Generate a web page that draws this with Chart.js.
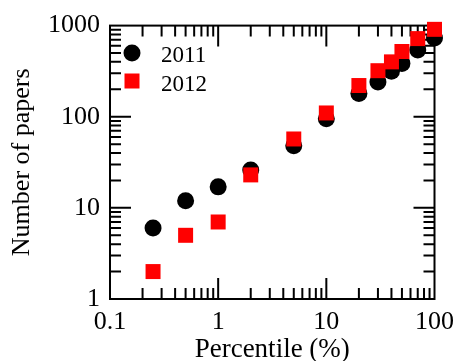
<!DOCTYPE html>
<html>
<head>
<meta charset="utf-8">
<script src="https://cdn.jsdelivr.net/npm/chart.js@4.4.1/dist/chart.umd.min.js"></script>
<style>
  html, body { margin: 0; padding: 0; background: #fff; }
  #wrap { width: 462px; height: 361px; }
</style>
</head>
<body>
<div id="wrap"><canvas id="chart"></canvas></div>
<script>
const percentiles = [0.25, 0.5, 1, 2, 5, 10, 20, 30, 40, 50, 70, 100];
const papers2011 = [6, 12, 17, 26, 48, 95, 180, 240, 315, 385, 540, 730];
const papers2012 = [2, 5, 7, 23, 57, 110, 220, 320, 400, 520, 720, 910];
const seriesNames = ['2011', '2012'];
const xTicks = [0.1, 1, 10, 100];
const yTicks = [1, 10, 100, 1000];

const FONT = '"Liberation Serif", serif';

function toPoints(xs, ys) {
  return xs.map((x, i) => ({ x: x, y: ys[i] }));
}

// inward ticks on all four sides, like the original plot
const frameTicks = {
  id: 'frameTicks',
  beforeDatasetsDraw(chart) {
    const { ctx, chartArea: a, scales } = chart;
    const major = 21, minor = 11;
    ctx.save();
    ctx.strokeStyle = '#000';
    ctx.lineWidth = 2;
    ctx.strokeRect(a.left, a.top, a.right - a.left, a.bottom - a.top);
    ctx.beginPath();
    for (let d = -1; d < 2; d++) {
      for (let k = 1; k < 10; k++) {
        const px = scales.x.getPixelForValue(k * Math.pow(10, d));
        const len = k === 1 ? major : minor;
        ctx.moveTo(px, a.bottom); ctx.lineTo(px, a.bottom - len);
        ctx.moveTo(px, a.top); ctx.lineTo(px, a.top + len);
      }
    }
    for (let d = 0; d < 3; d++) {
      for (let k = 1; k < 10; k++) {
        const py = scales.y.getPixelForValue(k * Math.pow(10, d));
        const len = k === 1 ? major : minor;
        ctx.moveTo(a.left, py); ctx.lineTo(a.left + len, py);
        ctx.moveTo(a.right, py); ctx.lineTo(a.right - len, py);
      }
    }
    ctx.stroke();
    ctx.restore();
  },
  afterDatasetsDraw(chart) {
    const { ctx } = chart;
    ctx.save();
    ctx.font = '23px ' + FONT;
    ctx.textBaseline = 'middle';
    ctx.fillStyle = '#000';
    // legend
    ctx.beginPath();
    ctx.arc(132, 53, 8.5, 0, Math.PI * 2);
    ctx.fill();
    ctx.fillText(seriesNames[0], 161, 56);
    ctx.fillStyle = '#ff0000';
    ctx.fillRect(124.5, 73.5, 15, 15);
    ctx.fillStyle = '#000';
    ctx.fillText(seriesNames[1], 161, 85);
    ctx.restore();
  }
};

function draw() {
  new Chart(document.getElementById('chart'), {
    type: 'scatter',
    data: {
      datasets: [
        {
          label: seriesNames[0],
          data: toPoints(percentiles, papers2011),
          pointStyle: 'circle',
          pointRadius: 8.5,
          pointHoverRadius: 8.5,
          backgroundColor: '#000',
          borderWidth: 0,
          clip: false,
          order: 2,
        },
        {
          label: seriesNames[1],
          data: toPoints(percentiles, papers2012),
          pointStyle: 'rect',
          pointRadius: 10.6,
          pointHoverRadius: 10.6,
          backgroundColor: '#ff0000',
          borderWidth: 0,
          clip: false,
          order: 1,
        },
      ],
    },
    options: {
      responsive: true,
      maintainAspectRatio: false,
      animation: false,
      events: [],
      layout: { padding: { top: 20, right: 21, left: 0, bottom: 0 } },
      plugins: { legend: { display: false }, tooltip: { enabled: false } },
      scales: {
        x: {
          type: 'logarithmic',
          min: 0.1,
          max: 100,
          border: { display: false },
          grid: { display: false, drawTicks: false },
          afterBuildTicks: axis => { axis.ticks = xTicks.map(v => ({ value: v })); },
          afterFit: axis => { axis.height = 62; },
          ticks: {
            autoSkip: false,
            maxRotation: 0,
            padding: 8,
            color: '#000',
            font: { family: FONT, size: 26 },
            callback: v => String(v),
          },
          title: {
            display: true,
            text: 'Percentile (%)',
            color: '#000',
            padding: { top: 0, bottom: -5 },
            font: { family: FONT, size: 27 },
          },
        },
        y: {
          type: 'logarithmic',
          min: 1,
          max: 1000,
          border: { display: false },
          grid: { display: false, drawTicks: false },
          afterBuildTicks: axis => { axis.ticks = yTicks.map(v => ({ value: v })); },
          afterFit: axis => { axis.width = 110; },
          ticks: {
            autoSkip: false,
            padding: 10,
            color: '#000',
            font: { family: FONT, size: 26 },
            callback: v => String(v),
          },
          title: {
            display: true,
            text: 'Number of papers',
            color: '#000',
            padding: { top: 7, bottom: 0 },
            font: { family: FONT, size: 26 },
          },
        },
      },
    },
    plugins: [frameTicks],
  });
}

document.fonts.load('26px "Liberation Serif"').then(draw, draw);
</script>
</body>
</html>
